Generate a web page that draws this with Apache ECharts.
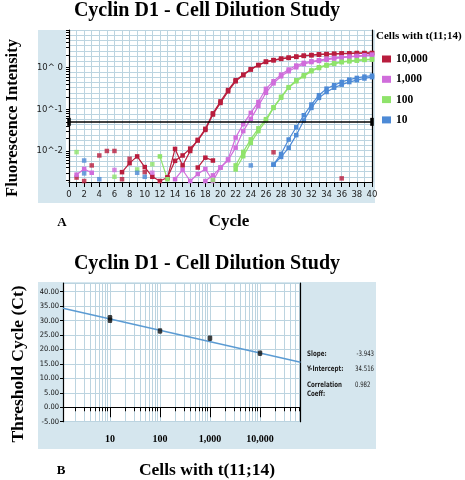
<!DOCTYPE html>
<html><head><meta charset="utf-8">
<script src="https://cdn.jsdelivr.net/npm/echarts@6/dist/echarts.min.js"></script>
<style>html,body{margin:0;padding:0;background:#fff}#c{width:465px;height:480px}</style>
</head><body><div id="c"></div>
<script>
// ---------- Panel A data (fluorescence per PCR cycle) ----------
const seriesNames = ['10,000', '1,000', '100', '10'];
const xTickLabels = [0,2,4,6,8,10,12,14,16,18,20,22,24,26,28,30,32,34,36,38,40];
const yDecadeLabels = [0.01, 0.1, 1];
const threshold = 0.053;

// traces: start cycle + consecutive values
const red1Start = 7;
const red1 = [.0031,.0051,.0074,.0041,.0024,.0019,.0023,.0112,.0045,.0100,.0185,.034,.080,.155,.29,.50,.68,.92,1.16,1.40,1.52,1.64,1.74,1.84,1.94,2.01,2.08,2.12,2.15,2.19,2.20,2.24,2.24,2.25];
const red2Start = 13;
const red2 = [.0023,.0058,.0078,.0114,.0178,.032,.075,.142,.27,.47,.66,.90,1.14,1.37,1.50,1.62,1.71,1.81,1.91,1.98,2.05,2.10,2.13,2.17,2.17,2.22,2.22,2.22];
const red3Start = 17;
const red3 = [.0040,.0069,.0059];
const redNoise = [[1,.0023],[2,.0019],[3,.0045],[4,.0078],[5,.0100],[6,.0100],[7,.0021],[8,.0065],[10,.0031],[27,.0093],[36,.0022]];

const mag1Start = 14;
const mag1 = [.0021,.0035,.0019,.0028,.0037,.0019,.0040,.0063,.021,.044,.082,.15,.31,.47,.68,.90,1.12,1.30,1.42,1.50,1.62,1.71,1.78,1.84,1.91,1.98,2.05];
const mag2Start = 18;
const mag2 = [.0019,.0026,.0040,.0060,.012,.030,.059,.12,.25,.42,.62,.82,1.02,1.22,1.36,1.45,1.55,1.65,1.73,1.80,1.87,1.93,2.0];
const mag3Start = 1;
const mag3 = [.0027,.0037,.0030];
const magNoise = [[6,.0035],[11,.0030]];

const grn1Start = 22;
const grn1 = [.0036,.0075,.0156,.030,.053,.108,.19,.33,.47,.62,.82,.98,1.12,1.23,1.35,1.42,1.47,1.53,1.56];
const grn2Start = 22;
const grn2 = [.0045,.0095,.019,.035,.058,.112,.20,.34,.50,.66,.86,1.02,1.16,1.28,1.38,1.45,1.51,1.56,1.60];
const grn3Start = 12;
const grn3 = [.0074,.0021];
const grnNoise = [[1,.0094],[6,.0024],[9,.0036],[11,.0048],[19,.0020]];

const blu1Start = 27;
const blu1 = [.0047,.0085,.0188,.037,.072,.130,.218,.313,.378,.454,.515,.566,.608,.643];
const blu2Start = 27;
const blu2 = [.0047,.0072,.0119,.024,.054,.108,.188,.26,.33,.39,.45,.50,.55,.59];
const bluNoise = [[2,.0059],[2,.0029],[4,.0021],[9,.0030],[10,.0024],[24,.0045]];

// ---------- Panel B data (standard curve) ----------
const cellCounts = [10, 10, 100, 1000, 10000];
const ctValues = [30.1, 31.0, 26.4, 23.9, 18.7];
const xLabelValues = [10, 100, 1000, 10000];
const slope = -3.943;
const intercept = 34.516;
const correlation = 0.982;

// ---------- styling ----------
const SERIF = '"Liberation Serif","Times New Roman",serif';
const SANS = '"DejaVu Sans",Verdana,sans-serif';
const NARROW = '"Liberation Sans Narrow","DejaVu Sans Condensed",sans-serif';
const COL = {'10,000':'#b81d3d','1,000':'#d06ddb','100':'#8fe36b','10':'#4d8ad6'};
const GRIDC = '#bcd4e0';
const PANEL = '#d5e6ee';

const A_MIN = 0.0018, A_MAX = 8;
const B_XMIN = 1.15, B_XMAX = 64500;

function pairs(start, vals){ return vals.map((v,i)=>[start+i, v]); }
function logTicks(lo, hi){
  const out=[];
  for(let e=-4;e<=6;e++){ for(let k=1;k<=9;k++){ const v=+(k*Math.pow(10,e)).toPrecision(6); if(v>=lo&&v<=hi) out.push(v);} }
  return out;
}

function lineSeries(name, start, vals){
  return {type:'line', name, xAxisIndex:0, yAxisIndex:0, data:pairs(start, vals),
    symbol:'rect', symbolSize:4.5, showSymbol:true, connectNulls:false, animation:false, silent:true,
    lineStyle:{width:1.2, color:COL[name]}, itemStyle:{color:COL[name]}, z:3};
}
function noiseSeries(name, pts, extra){
  return Object.assign({type:'scatter', name, xAxisIndex:0, yAxisIndex:0, data:pts,
    symbol:'rect', symbolSize:4.5, animation:false, silent:true, itemStyle:{color:COL[name]}, z:3}, extra||{});
}

const series = [
  lineSeries('10,000', red1Start, red1),
  lineSeries('10,000', red2Start, red2),
  lineSeries('10,000', red3Start, red3),
  noiseSeries('10,000', redNoise, {markLine:{silent:true, symbol:['rect','rect'], symbolSize:[8,3.5],
      lineStyle:{color:'#000', width:1.5, type:'solid'}, itemStyle:{color:'#000'}, label:{show:false},
      animation:false, data:[{yAxis:threshold}]}}),
  lineSeries('1,000', mag1Start, mag1),
  lineSeries('1,000', mag2Start, mag2),
  lineSeries('1,000', mag3Start, mag3),
  noiseSeries('1,000', magNoise),
  lineSeries('100', grn1Start, grn1),
  lineSeries('100', grn2Start, grn2),
  lineSeries('100', grn3Start, grn3),
  noiseSeries('100', grnNoise),
  lineSeries('10', blu1Start, blu1),
  lineSeries('10', blu2Start, blu2),
  noiseSeries('10', bluNoise),
  // panel B
  {type:'line', name:'fit', xAxisIndex:1, yAxisIndex:2, showSymbol:false, animation:false, silent:true,
   data:[[B_XMIN, intercept + slope*Math.log10(B_XMIN)],[B_XMAX, intercept + slope*Math.log10(B_XMAX)]],
   lineStyle:{color:'#5b9bd3', width:1.5}, z:3},
  {type:'scatter', name:'ct', xAxisIndex:1, yAxisIndex:2, animation:false, silent:true,
   data: cellCounts.map((c,i)=>[c, ctValues[i]]), symbol:'roundRect', symbolSize:[4.5,5.5],
   itemStyle:{color:'#111'}, z:4}
];

const txt = (text, x, y, font, opts) => {
  opts = opts || {};
  return {type:'text', x, y, silent:true, z:10, rotation: opts.rotation||0, scaleX: opts.scaleX||1,
    style:Object.assign({text, font, fill:'#000', textAlign:'center', textVerticalAlign:'middle'}, opts.style||{})};
};

const option = {
  animation:false,
  backgroundColor:'#fff',
  grid:[
    {left:69, top:30, width:303, height:152},
    {left:63, top:283, width:237.5, height:138.7}
  ],
  legend:{data:seriesNames, left:377, top:48, orient:'vertical', itemWidth:9, itemHeight:7, itemGap:8.3,
    icon:'rect', selectedMode:false,
    textStyle:{fontFamily:SERIF, fontWeight:'bold', fontSize:11.5, color:'#000', lineHeight:12}},
  xAxis:[
    {type:'value', gridIndex:0, min:0, max:40, interval:2,
      axisLine:{show:true, lineStyle:{color:'#000', width:1.2}},
      axisTick:{show:true, length:5, lineStyle:{color:'#000'}},
      minorTick:{show:true, splitNumber:2, length:5, lineStyle:{color:'#000'}},
      splitLine:{show:true, lineStyle:{color:GRIDC, width:1}},
      minorSplitLine:{show:true, lineStyle:{color:GRIDC, width:1}},
      axisLabel:{fontFamily:SANS, fontSize:8.5, color:'#222', margin:8, customValues:xTickLabels}},
    {type:'log', logBase:10, gridIndex:1, min:B_XMIN, max:B_XMAX, position:'bottom',
      axisLine:{show:true, lineStyle:{color:'#000', width:1.2}},
      axisTick:{show:true, length:4, customValues:logTicks(B_XMIN, B_XMAX), lineStyle:{color:'#000'}},
      splitLine:{show:true, lineStyle:{color:GRIDC, width:1}},
      axisLabel:{customValues:xLabelValues, fontFamily:SERIF, fontWeight:'bold', fontSize:10, color:'#000', margin:13,
        formatter:v=>Number(v).toLocaleString('en-US')}},
    {type:'log', logBase:10, gridIndex:1, min:B_XMIN, max:B_XMAX, position:'bottom',
      axisLine:{show:false}, splitLine:{show:false}, axisLabel:{show:false},
      axisTick:{show:true, length:10, customValues:xLabelValues, lineStyle:{color:'#000'}}}
  ],
  yAxis:[
    {type:'log', logBase:10, gridIndex:0, min:A_MIN, max:A_MAX, position:'left',
      axisLine:{show:true, lineStyle:{color:'#000', width:1.2}},
      axisTick:{show:true, length:3, customValues:logTicks(A_MIN, A_MAX), lineStyle:{color:'#000'}},
      splitLine:{show:false},
      axisLabel:{customValues:yDecadeLabels, fontFamily:SANS, fontSize:8.5, color:'#222', margin:6,
        formatter:v=>{const e=Math.round(Math.log10(v)); return '10^' + (e>=0?' '+e:e);}}},
    {type:'value', gridIndex:0, min:0, max:29, interval:1, position:'right',
      axisLine:{show:true, lineStyle:{color:'#000', width:1.2}}, axisTick:{show:false}, axisLabel:{show:false},
      splitLine:{show:true, lineStyle:{color:GRIDC, width:1}}},
    {type:'value', gridIndex:1, min:-5, max:43, interval:5, position:'left',
      axisLine:{show:true, lineStyle:{color:'#000', width:1.2}},
      axisTick:{show:true, length:3, lineStyle:{color:'#000'}},
      splitLine:{show:true, lineStyle:{color:GRIDC, width:1}},
      axisLabel:{showMaxLabel:false, fontFamily:NARROW, fontSize:7.5, color:'#111', margin:4,
        formatter:v=>Number(v).toFixed(2)}},
    {type:'value', gridIndex:1, min:-5, max:43, position:'right',
      axisLine:{show:true, lineStyle:{color:'#000', width:1.2}}, axisTick:{show:false}, axisLabel:{show:false},
      splitLine:{show:false}}
  ],
  graphic:{elements:[
    {type:'rect', shape:{x:38, y:30, width:337, height:173}, style:{fill:PANEL}, z:-10, silent:true},
    {type:'rect', shape:{x:66, y:30, width:306, height:152}, style:{fill:'#fff'}, z:-9, silent:true},
    {type:'rect', shape:{x:38, y:282, width:338, height:167}, style:{fill:PANEL}, z:-10, silent:true},
    {type:'rect', shape:{x:63, y:283, width:237.5, height:138.7}, style:{fill:'#fff'}, z:-9, silent:true},
    txt('Cyclin D1 - Cell Dilution Study', 207, 11, 'bold 20px '+SERIF),
    txt('Cyclin D1 - Cell Dilution Study', 207, 264, 'bold 20px '+SERIF),
    txt('Fluorescence Intensity', 13, 118, 'bold 16.5px '+SERIF, {rotation:Math.PI/2}),
    txt('Threshold Cycle (Ct)', 18, 364, 'bold 17.5px '+SERIF, {rotation:Math.PI/2}),
    txt('Cycle', 229, 222, 'bold 17px '+SERIF),
    txt('A', 62, 223, 'bold 13px '+SERIF),
    txt('Cells with t(11;14)', 207, 470, 'bold 17.5px '+SERIF),
    txt('B', 61, 471, 'bold 13px '+SERIF),
    txt('Cells with t(11;14)', 376, 36, 'bold 11px '+SERIF, {style:{textAlign:'left'}}),
    txt('Slope:', 307, 354, 'bold 7.5px '+NARROW, {scaleX:0.82, style:{textAlign:'left', fill:'#222'}}),
    txt('Y-Intercept:', 307, 369, 'bold 7.5px '+NARROW, {scaleX:0.82, style:{textAlign:'left', fill:'#222'}}),
    txt('Correlation', 307, 385.5, 'bold 7.5px '+NARROW, {scaleX:0.82, style:{textAlign:'left', fill:'#222'}}),
    txt('Coeff:', 307, 394.5, 'bold 7.5px '+NARROW, {scaleX:0.82, style:{textAlign:'left', fill:'#222'}}),
    txt(slope.toFixed(3), 374, 354, '7.5px '+NARROW, {scaleX:0.8, style:{textAlign:'right', fill:'#222'}}),
    txt(intercept.toFixed(3), 374, 369, '7.5px '+NARROW, {scaleX:0.8, style:{textAlign:'right', fill:'#222'}}),
    txt(correlation.toFixed(3), 355, 385.5, '7.5px '+NARROW, {scaleX:0.8, style:{textAlign:'left', fill:'#222'}})
  ]},
  series
};

const chart = echarts.init(document.getElementById('c'), null, {renderer:'canvas'});
chart.setOption(option);
</script></body></html>
